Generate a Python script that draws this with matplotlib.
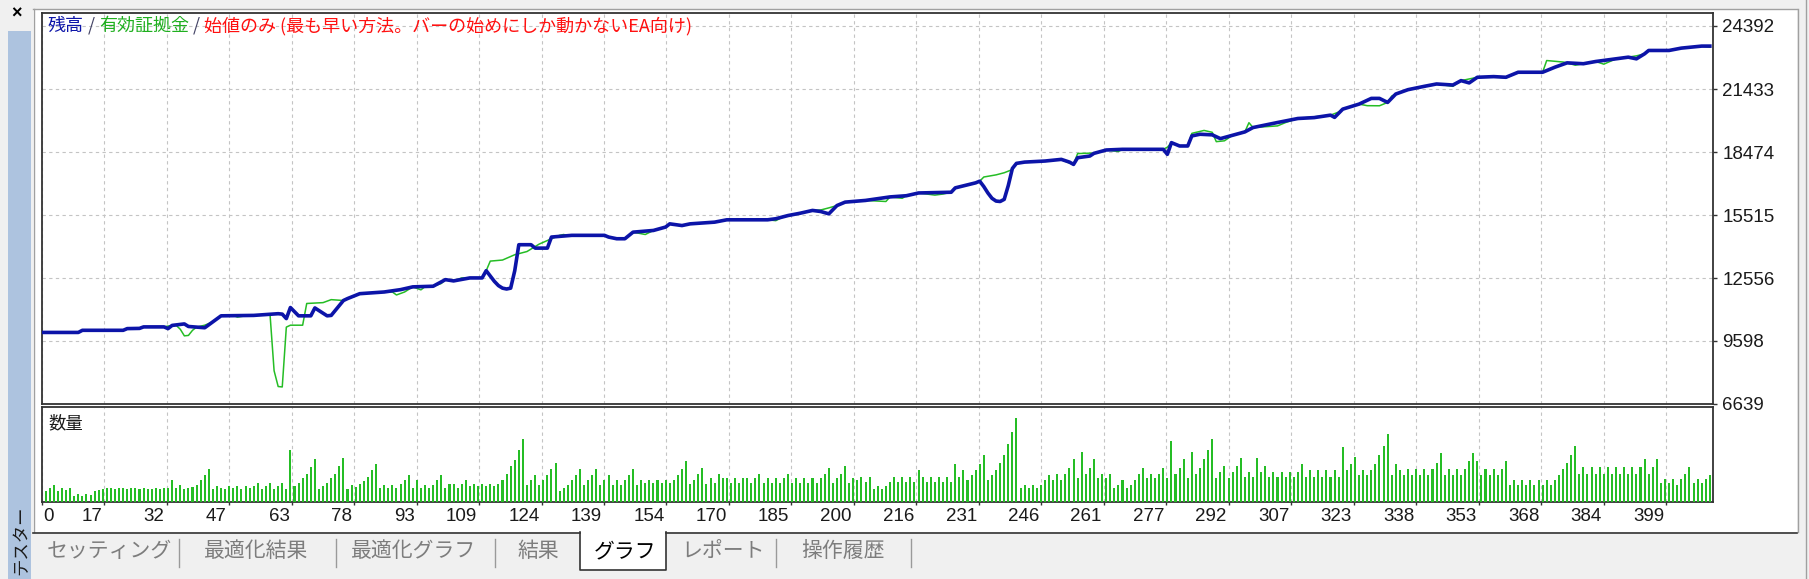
import numpy as np
import matplotlib.pyplot as plt
from matplotlib.patches import Rectangle
from matplotlib.lines import Line2D

# MT4 strategy tester, "グラフ" tab: balance / equity per trade, lot size per trade

y_ticks = [6639, 9598, 12556, 15515, 18474, 21433, 24392]
x_tick_labels = ["0", "17", "32", "47", "63", "78", "93", "109", "124", "139",
                 "154", "170", "185", "200", "216", "231", "246", "261", "277",
                 "292", "307", "323", "338", "353", "368", "384", "399"]

# (trade no, balance)
balance = [
    (0, 10000), (9, 10000), (10, 10100), (20, 10100), (21, 10180), (24, 10190),
    (25, 10260), (30, 10260), (31, 10180), (32, 10330), (35, 10400), (36, 10280),
    (40, 10220), (42, 10500), (44, 10780), (52, 10800), (58, 10880), (59, 10860),
    (60, 10650), (61, 11170), (63, 10780), (66, 10780), (67, 11150), (70, 10780),
    (71, 10800), (74, 11500), (75, 11590), (78, 11820), (84, 11900), (88, 12010),
    (91, 12140), (96, 12170), (99, 12480), (101, 12420), (105, 12560), (108, 12560),
    (109, 12900), (110, 12650), (111, 12400), (112, 12200), (113, 12080), (114, 12040),
    (115, 12080), (116, 12900), (117, 14120), (120, 14120), (121, 13960), (124, 13960),
    (125, 14480), (130, 14560), (138, 14560), (139, 14480), (141, 14400), (143, 14400),
    (145, 14710), (150, 14790), (153, 14950), (154, 15100), (157, 15020), (159, 15100),
    (165, 15180), (168, 15290), (178, 15290), (180, 15340), (183, 15490), (186, 15600),
    (189, 15730), (191, 15680), (193, 15570), (195, 15960), (197, 16120), (202, 16200),
    (208, 16365), (212, 16420), (215, 16550), (223, 16585), (224, 16790), (229, 17026),
    (230, 17104), (231, 16850), (232, 16550), (233, 16300), (234, 16170), (235, 16150),
    (236, 16250), (237, 16900), (238, 17700), (239, 17940), (241, 18000), (246, 18050),
    (250, 18128), (252, 18000), (253, 17892), (254, 18206), (257, 18285), (258, 18411),
    (261, 18568), (265, 18600), (275, 18600), (276, 18364), (277, 18914), (279, 18757),
    (281, 18757), (282, 19229), (284, 19308), (287, 19280), (289, 19103), (292, 19260),
    (295, 19418), (297, 19623), (303, 19859), (308, 20048), (312, 20090), (316, 20205),
    (317, 20100), (319, 20488), (323, 20724), (326, 20992), (328, 20992), (330, 20803),
    (332, 21197), (335, 21402), (339, 21559), (342, 21669), (346, 21620), (348, 21826),
    (350, 21720), (352, 21984), (356, 22015), (359, 21984), (362, 22220), (368, 22220),
    (371, 22456), (374, 22661), (378, 22620), (381, 22724), (386, 22850), (389, 22928),
    (391, 22850), (393, 23086), (394, 23243), (399, 23243), (402, 23353), (407, 23448),
    (409, 23448),
]

# (trade no, equity)
equity = [
    (0, 10000), (9, 10000), (10, 10100), (20, 10100), (21, 10180), (24, 10190),
    (25, 10260), (30, 10260), (31, 10300), (33, 10330), (34, 10150), (35, 9840),
    (36, 9860), (37, 10100), (38, 10250), (40, 10340), (42, 10500), (44, 10780),
    (47, 10800), (48, 10720), (50, 10780), (52, 10800), (56, 10860), (57, 8200),
    (58, 7460), (59, 7440), (60, 10250), (61, 10340), (64, 10340), (65, 11360),
    (69, 11400), (71, 11540), (74, 11500), (75, 11590), (78, 11820), (84, 11900),
    (86, 11900), (87, 11760), (89, 11900), (91, 12140), (93, 12000), (94, 12150),
    (96, 12170), (98, 12300), (99, 12480), (101, 12420), (103, 12560), (108, 12560),
    (109, 12900), (110, 13350), (113, 13400), (116, 13650), (119, 13800), (122, 14150),
    (125, 14400), (127, 14560), (128, 14600), (129, 14540), (130, 14560), (138, 14560),
    (139, 14500), (141, 14380), (143, 14400), (145, 14710), (148, 14600), (150, 14790),
    (153, 14950), (154, 15100), (157, 15000), (159, 15100), (165, 15180), (168, 15290),
    (178, 15290), (180, 15250), (182, 15450), (183, 15500), (186, 15600), (189, 15730),
    (191, 15750), (193, 15850), (195, 15960), (197, 16120), (202, 16200), (207, 16150),
    (208, 16365), (211, 16300), (212, 16420), (215, 16550), (219, 16450), (221, 16500),
    (223, 16585), (224, 16790), (229, 17026), (230, 17104), (231, 17300), (234, 17400),
    (236, 17500), (238, 17650), (239, 17940), (241, 18000), (246, 18050), (250, 18128),
    (252, 17950), (253, 17900), (254, 18400), (257, 18420), (258, 18411), (261, 18568),
    (264, 18500), (265, 18600), (275, 18600), (276, 18700), (277, 18914), (279, 18757),
    (281, 18757), (282, 19350), (285, 19487), (287, 19400), (288, 18960), (290, 19000),
    (292, 19260), (295, 19418), (296, 19850), (297, 19623), (303, 19700), (305, 19859),
    (308, 20048), (316, 20205), (318, 20350), (319, 20488), (323, 20724), (325, 20650),
    (328, 20645), (330, 20803), (331, 21100), (332, 21197), (335, 21402), (339, 21559),
    (342, 21669), (346, 21559), (348, 21826), (352, 21984), (356, 22015), (359, 21950),
    (362, 22220), (368, 22220), (369, 22770), (373, 22700), (374, 22661), (376, 22550),
    (378, 22620), (381, 22724), (383, 22600), (386, 22850), (389, 22928), (391, 22990),
    (393, 23086), (394, 23243), (399, 23243), (402, 23353), (407, 23448), (409, 23400),
]

# lot size per trade (panel units), trades 1..409
volume = [
    11, 14, 17, 11, 14, 12, 14, 6, 8, 6,
    8, 7, 11, 12, 13, 14, 14, 13, 14, 14,
    13, 14, 14, 13, 14, 13, 13, 14, 13, 14,
    14, 22, 14, 17, 13, 14, 15, 17, 22, 27,
    33, 13, 16, 14, 13, 16, 14, 16, 13, 16,
    14, 16, 19, 13, 16, 19, 13, 16, 19, 13,
    52, 16, 19, 24, 28, 35, 43, 13, 16, 19,
    24, 28, 36, 44, 13, 17, 15, 18, 21, 25,
    32, 38, 14, 17, 14, 17, 14, 18, 22, 27,
    14, 22, 14, 17, 14, 17, 22, 27, 14, 18,
    18, 14, 18, 22, 16, 18, 16, 18, 16, 18,
    16, 18, 22, 28, 36, 42, 52, 63, 17, 22,
    27, 17, 22, 27, 33, 39, 11, 14, 17, 22,
    27, 33, 17, 22, 27, 33, 17, 22, 27, 17,
    22, 17, 22, 27, 33, 17, 22, 19, 22, 19,
    22, 19, 22, 19, 22, 27, 33, 41, 18, 22,
    28, 34, 18, 24, 19, 28, 24, 24, 19, 24,
    19, 24, 24, 19, 24, 28, 19, 24, 19, 24,
    19, 24, 28, 19, 24, 19, 24, 19, 24, 19,
    24, 28, 34, 19, 24, 28, 36, 19, 24, 22,
    25, 20, 25, 13, 16,
    13, 16, 20, 25, 20, 25, 20, 25, 20, 32,
    25, 20, 25, 20, 25, 20, 25, 20, 38, 25,
    32, 22, 27, 32, 38, 47, 22, 27, 32, 39,
    47, 58, 70, 84, 14, 17, 14, 17, 14, 17,
    22, 27, 22, 28, 22, 28, 34, 43, 24, 50,
    28, 34, 43, 24, 28, 24, 28, 14, 17, 22,
    14, 17, 22, 28, 34, 24, 28, 24, 28, 34,
    24, 61, 28, 34, 43, 24, 50, 28, 34, 43,
    52, 63, 24, 30, 36, 24, 30, 36, 44, 25,
    30, 25, 44, 30, 36, 25, 30, 25, 30, 25,
    30, 25, 30,
    38, 25, 32, 25, 32, 25, 32, 25, 32, 25,
    55, 32, 38, 45, 27, 32, 27, 32, 38, 47,
    56, 68, 27, 38, 32, 27, 33, 27, 33, 27,
    33, 27, 33, 39, 49, 27, 33, 27, 33, 27,
    33, 41, 49, 41, 27, 33, 27, 33, 27, 33,
    41, 17, 22, 17, 22, 17, 22, 17, 22, 17,
    22, 17, 22, 27, 33, 39, 47, 56, 28, 35,
    28, 35, 28, 35, 28, 35, 28, 35, 28, 35,
    28, 35, 28, 35, 43, 28, 35, 43, 19, 23,
    19, 23, 17, 23, 28, 35, 19, 23, 19, 23, 27,
]

tabs = ["セッティング", "最適化結果", "最適化グラフ", "結果", "グラフ", "レポート", "操作履歴"]
active_tab = "グラフ"

W, H = 1809, 579
JP = ['Noto Sans CJK JP', 'DejaVu Sans']
NUM = ['Liberation Sans', 'DejaVu Sans']
BLUE = '#0c14a8'
GREEN = '#25bd25'
GRID = '#c4c4c4'
EDGE = '#333333'

fig = plt.figure(figsize=(W / 100, H / 100), dpi=100, facecolor='#f0f0f0')


def fx(x):
    return x / W


def fy(y):
    return 1 - y / H


def frect(x0, y0, x1, y1, **kw):
    fig.add_artist(Rectangle((fx(x0), fy(y1)), (x1 - x0) / W, (y1 - y0) / H,
                             transform=fig.transFigure, **kw))


def fline(xs, ys, **kw):
    fig.add_artist(Line2D([fx(x) for x in xs], [fy(y) for y in ys],
                          transform=fig.transFigure, **kw))


# window chrome
frect(33, 9, 1797, 532, facecolor='white', edgecolor='none', zorder=-5)
frect(8, 31, 31, 579, facecolor='#adc3df', edgecolor='none', zorder=-5)
fline([33, 1797], [8.5, 8.5], color='#a0a0a0', lw=1)
fline([33.5, 33.5], [9, 532], color='#a0a0a0', lw=1)
fline([1797.5, 1797.5], [9, 532], color='#a0a0a0', lw=1)
fline([1806, 1806], [0, 579], color='#a0a0a0', lw=1)
fig.text(fx(16.5), fy(14), "×", fontsize=13, fontweight='bold', ha='center',
         va='center', family=NUM)
fig.text(fx(21), fy(540), "テスター", rotation=90, fontsize=12.5, ha='center',
         va='center', family=JP, color='#1a1a1a')

# tab strip
tab_x = [109, 256, 414, 538, 625, 723, 843]
fline([33, 580], [532.5, 532.5], color=EDGE, lw=1.2)
fline([666, 1797], [532.5, 532.5], color=EDGE, lw=1.2)
frect(580, 532, 666, 570, facecolor='white', edgecolor='none', zorder=-4)
fline([580, 580, 666, 666], [532, 570, 570, 532], color=EDGE, lw=1.2)
for sx in [179, 335.5, 495, 776, 911]:
    fline([sx, sx], [539, 567], color='#9a9a9a', lw=1)
for name, tx in zip(tabs, tab_x):
    fig.text(fx(tx), fy(551), name, fontsize=15, ha='center', va='center',
             family=JP, color='black' if name == active_tab else '#7d7d7d')

# axes
x_max = 409.7
grid_step = 15.32
grid_pos = np.arange(len(x_tick_labels)) * grid_step

ax = fig.add_axes([fx(41.6), fy(404), (1712.7 - 41.6) / W, (404 - 12.5) / H])
axv = fig.add_axes([fx(41.6), fy(502), (1712.7 - 41.6) / W, (502 - 407) / H])

bx, by = zip(*balance)
ex, ey = zip(*equity)
ax.plot(ex, ey, color=GREEN, lw=1.1, zorder=3)
ax.plot(bx, by, color=BLUE, lw=2.6, zorder=4, solid_joinstyle='round')
ax.set_xlim(0, x_max)
ax.set_ylim(6639, 25026)
ax.set_xticks(grid_pos)
ax.set_yticks(y_ticks)
ax.set_yticklabels([str(v) for v in y_ticks], family=NUM, fontsize=13.5,
                   color='#1a1a1a')
ax.yaxis.tick_right()
ax.tick_params(axis='y', length=3, width=1, color=EDGE, pad=3.8)
ax.tick_params(axis='x', length=0, labelbottom=False)
ax.grid(True, color=GRID, linestyle=(0, (3, 3)), lw=0.8, zorder=0)

vx = np.arange(1, len(volume) + 1)
axv.bar(vx, volume, width=0.5, color=GREEN, linewidth=0, zorder=3)
axv.set_xlim(0, x_max)
axv.set_ylim(0, 95)
axv.set_yticks([])
axv.set_xticks(grid_pos)
axv.tick_params(axis='x', length=2.5, width=1, color=EDGE, labelbottom=False)
axv.grid(True, axis='x', color=GRID, linestyle=(0, (3, 3)), lw=0.8, zorder=0)
for i, (pos, lbl) in enumerate(zip(grid_pos, x_tick_labels)):
    axv.annotate(lbl, xy=(pos, 0), xycoords=('data', 'axes fraction'),
                 xytext=(1.5 if i == 0 else -1.5, -10.5),
                 textcoords='offset points', ha='left' if i == 0 else 'right',
                 va='center', family=NUM, fontsize=13.5, color='#1a1a1a',
                 annotation_clip=False)

for a in (ax, axv):
    a.set_facecolor('white')
    for s in a.spines.values():
        s.set_color(EDGE)
        s.set_linewidth(1.3)

fig.text(fx(48), fy(423.5), "数量", fontsize=12.5, ha='left', va='center',
         family=JP, color='#1a1a1a')

# legend line at top
parts = [("残高", BLUE), (" / ", '#444466'), ("有効証拠金", '#1faf1f'),
         (" / ", '#444466'),
         ("始値のみ (最も早い方法。バーの始めにしか動かないEA向け)", '#ff1010')]
prev = fig.text(fx(48), fy(25.7), parts[0][0], fontsize=13, ha='left',
                va='center', family=JP, color=parts[0][1])
for txt, col in parts[1:]:
    prev = ax.annotate(txt, xy=(1, 0.5), xycoords=prev, ha='left', va='center',
                       fontsize=13, family=JP, color=col, annotation_clip=False)

fig.savefig('out.png', dpi=100, facecolor=fig.get_facecolor())
